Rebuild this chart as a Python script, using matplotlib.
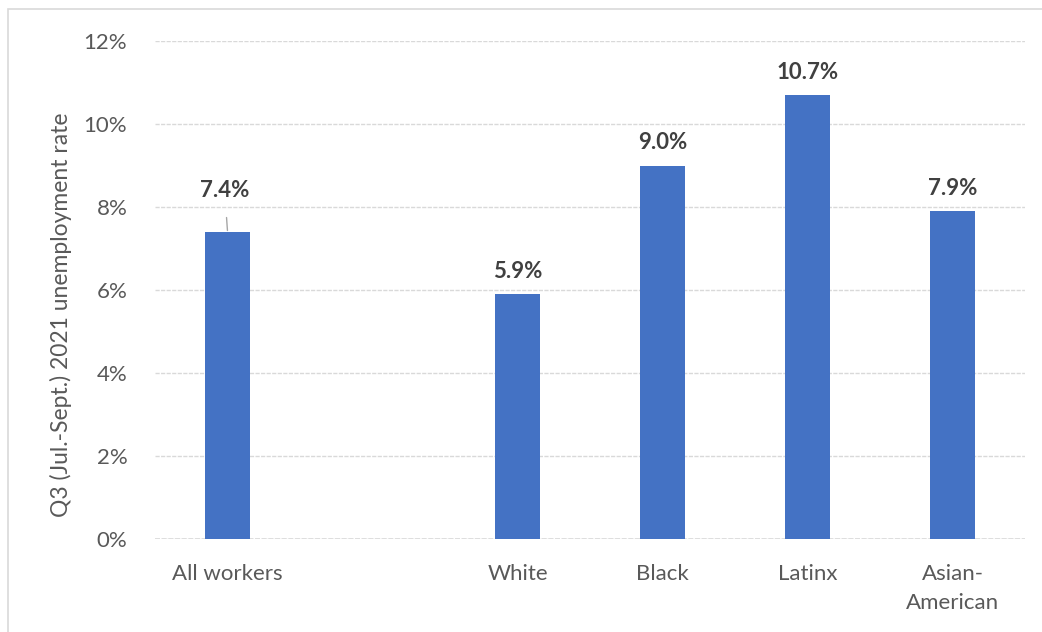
import matplotlib.pyplot as plt
from matplotlib.patches import Rectangle
import numpy as np

plt.rcParams['font.family'] = ['Lato', 'DejaVu Sans']

# ---------------- data ----------------
categories = ['All workers', '', 'White', 'Black', 'Latinx', 'Asian-\nAmerican']
rates = [7.4, np.nan, 5.9, 9.0, 10.7, 7.9]
value_labels = ['7.4%', '', '5.9%', '9.0%', '10.7%', '7.9%']
yticks = [0, 2, 4, 6, 8, 10, 12]
ytick_labels = ['0%', '2%', '4%', '6%', '8%', '10%', '12%']

bar_color = '#4472C4'
text_grey = '#595959'
grid_grey = '#d9d9d9'

fig = plt.figure(figsize=(10.42, 6.32), dpi=100)
ax = fig.add_axes([0.1488, 0.1472, 0.8349, 0.7879])

x = np.arange(len(categories))
bars = ax.bar(x, rates, width=0.31, color=bar_color, zorder=3)

ax.set_xlim(-0.5, len(categories) - 0.5)
ax.set_ylim(0, 12)
ax.set_yticks(yticks)
ax.set_yticklabels(ytick_labels)
ax.set_xticks(x)
ax.set_xticklabels(categories, linespacing=1.55)
ax.tick_params(axis='both', length=0, labelsize=16, colors=text_grey)
ax.tick_params(axis='x', pad=18)
ax.tick_params(axis='y', pad=20)

for s in ax.spines.values():
    s.set_visible(False)
ax.yaxis.grid(True, color=grid_grey, linestyle=(0, (3, 1)), linewidth=1, zorder=0)
ax.axhline(0, color=grid_grey, linestyle=(0, (3, 1)), linewidth=1.2, zorder=2)

ax.set_ylabel('Q3 (Jul.-Sept.) 2021 unemployment rate', fontsize=16.5, color=text_grey)
ax.yaxis.set_label_coords(-0.095, 0.45)

# data labels
for i, (v, lab) in enumerate(zip(rates, value_labels)):
    if not lab:
        continue
    if i == 0:
        # moved label with leader line
        ax.annotate(lab, xy=(x[i], v), xytext=(x[i] - 0.02, v + 1.0),
                    ha='center', va='center', fontsize=16, fontweight='bold', color='#404040',
                    arrowprops=dict(arrowstyle='-', color='#a6a6a6', lw=1,
                                    shrinkA=10, shrinkB=1), zorder=4)
    else:
        ax.text(x[i], v + 0.3, lab, ha='center', va='bottom', fontsize=16,
                fontweight='bold', color='#404040', zorder=4)

# chart frame (cropped at right/bottom)
fig.patches.append(Rectangle((7.5 / 1042, -0.1), 1.2, 1 - 8.5 / 632 + 0.1,
                             transform=fig.transFigure, fill=False,
                             edgecolor=grid_grey, linewidth=1.2))

plt.savefig('out.png', dpi=100)
